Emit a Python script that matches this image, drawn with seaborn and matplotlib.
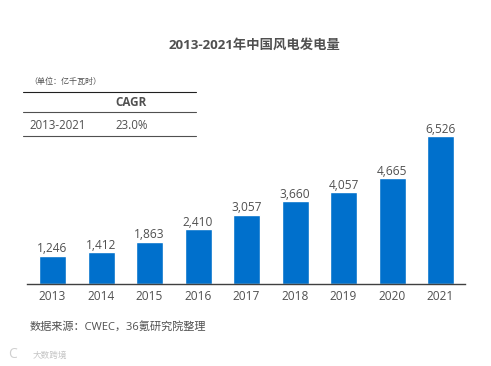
import matplotlib
matplotlib.use('agg')
import matplotlib.pyplot as plt
from matplotlib.lines import Line2D
import seaborn as sns

years = ['2013', '2014', '2015', '2016', '2017', '2018', '2019', '2020', '2021']
output = [1246, 1412, 1863, 2410, 3057, 3660, 4057, 4665, 6526]
bar_labels = ['1,246', '1,412', '1,863', '2,410', '3,057', '3,660', '4,057', '4,665', '6,526']

title = '2013-2021年中国风电发电量'
unit = '（单位：亿千瓦时）'
cagr_header = 'CAGR'
cagr_period = '2013-2021'
cagr_value = '23.0%'
source = '数据来源：CWEC，36氪研究院整理'
watermark = '大数跨境'

W, H = 491, 366
BLUE = '#0070CC'
GREY = '#505050'

sns.set_theme(style='white')
plt.rcParams['font.family'] = ['Open Sans', 'Noto Sans CJK SC', 'DejaVu Sans']


def px_text(fig, x, y, s, **kw):
    # position in image pixels, y from the top
    return fig.text(x / W, 1 - y / H, s, va='center', **kw)


def px_line(fig, x0, x1, y, color, lw):
    fig.add_artist(Line2D([x0 / W, x1 / W], [1 - y / H, 1 - y / H], color=color, lw=lw,
                          transform=fig.transFigure))


fig = plt.figure(figsize=(W / 100, H / 100), dpi=100)
ax = fig.add_axes([27 / W, 1 - 284 / H, 438 / W, 184 / H])

sns.barplot(x=years, y=output, color=BLUE, saturation=1, width=0.557, ax=ax)
ax.set_xlim(-0.526, 8.505)
ax.set_ylim(0, 6526 * 184 / 148)

for i, lab in enumerate(bar_labels):
    ax.annotate(lab, (i, output[i]), xytext=(0, 0.3), textcoords='offset points',
                ha='center', va='bottom', fontsize=8.6, color=GREY)

sns.despine(ax=ax, left=True)
ax.spines['bottom'].set_color('#404040')
ax.spines['bottom'].set_linewidth(1)
ax.set_yticks([])
ax.tick_params(axis='x', length=0, labelsize=8.6, labelcolor=GREY, pad=4.5)

px_text(fig, 254, 45.5, title, ha='center', fontsize=9.6, fontweight='bold', color=GREY)
px_text(fig, 29, 81.5, unit, ha='left', fontsize=5.8, color=GREY)
px_text(fig, 115.5, 103, cagr_header, ha='left', fontsize=8.4, fontweight='bold', color=GREY)
px_text(fig, 29.5, 125.5, cagr_period, ha='left', fontsize=8.3, color=GREY)
px_text(fig, 115.5, 125.5, cagr_value, ha='left', fontsize=8.3, color=GREY)
px_line(fig, 23, 196, 91.5, '#202020', 0.8)
px_line(fig, 23, 196, 112.5, '#505050', 0.8)
px_line(fig, 23, 196, 135.5, '#505050', 0.8)
px_text(fig, 29.5, 328, source, ha='left', fontsize=8.05, color=GREY)
px_text(fig, 8, 355, 'C', ha='left', fontsize=10, color='#CFCFCF')
px_text(fig, 33, 355, watermark, ha='left', fontsize=6.2, color='#C4C4C4')

fig.savefig('out.png', dpi=100)
